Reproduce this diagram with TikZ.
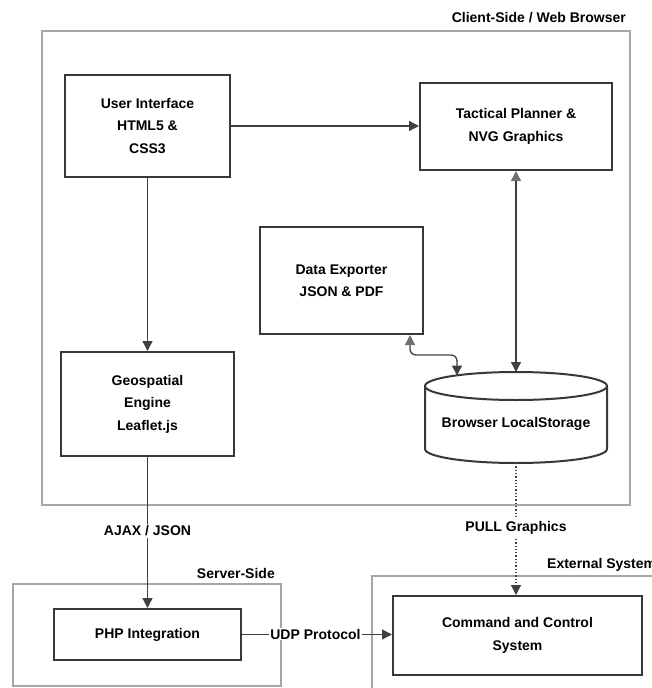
\documentclass[tikz,border=0pt]{standalone}
\usepackage{fontspec}
\setmainfont{Liberation Sans}
\usetikzlibrary{arrows.meta}
\definecolor{boxc}{HTML}{383838}
\definecolor{grpc}{HTML}{A6A6A6}
\definecolor{linec}{HTML}{404040}
\definecolor{tipgray}{HTML}{707070}
\begin{document}
\begin{tikzpicture}[x=1pt,y=-1pt,
  font=\bfseries\fontsize{14}{22.5}\selectfont,
  blk/.style={draw=boxc, line width=2pt, fill=white, align=center, inner sep=0pt},
  grp/.style={draw=grpc, line width=1.6pt},
  link/.style={draw=linec, line width=1.3pt},
  tipend/.style={-{Triangle[length=10pt,width=10pt]}},
  both/.style={{Triangle[length=10pt,width=10pt,color=tipgray]}-{Triangle[length=10pt,width=10pt]}},
  lbl/.style={fill=white, inner sep=2pt},
  grplbl/.style={inner sep=0pt}
]
\useasboundingbox (0,0) rectangle (651,688);

% group frames
\draw[grp] (42,31) rectangle (630,505);
\draw[grp] (13,584) rectangle (281,686);
\draw[grp] (372,700) -- (372,576) -- (660,576);
\node[grplbl, anchor=east] (lclient) at (626,18) {Client-Side / Web Browser};
\node[grplbl, anchor=east] (lserver) at (275,573) {Server-Side};
\node[grplbl, anchor=west] (lext) at (547,565) {External System};

% components
\node[blk, minimum width=165pt, minimum height=102pt] (ui) at (147.5,126) {User Interface\\HTML5 \&\\CSS3};
\node[blk, minimum width=192pt, minimum height=87pt] (tac) at (516,126.5) {Tactical Planner \&\\NVG Graphics};
\node[blk, minimum width=163pt, minimum height=107pt] (exp) at (341.5,280.5) {Data Exporter\\JSON \& PDF};
\node[blk, minimum width=173pt, minimum height=104pt] (geo) at (147.5,404) {Geospatial\\Engine\\Leaflet.js};
\node[blk, minimum width=187pt, minimum height=51pt] (php) at (147.5,634.5) {PHP Integration};
\node[blk, minimum width=249pt, minimum height=79pt] (cc) at (517.5,635.5) {Command and Control\\System};

% storage cylinder
\filldraw[draw=boxc, fill=white, line width=2pt]
  (425,386) -- (425,449) arc[start angle=180, end angle=0, x radius=91, y radius=14] -- (607,386);
\draw[draw=boxc, line width=2pt] (516,386) ellipse [x radius=91, y radius=14];
\node[inner sep=0pt] (store) at (516,424) {Browser LocalStorage};
\coordinate (storetop) at (516,372);
\coordinate (storeside) at (457,375.5);
\coordinate (storebot) at (516,463);

% connectors
\draw[link, tipend] (ui.east |- 0,126) -- (tac.west |- 0,126);
\draw[link, tipend] (ui.south) -- (geo.north);
\draw[link, both] (tac.south -| storetop) -- (storetop);
\draw[link, both, rounded corners=6pt] ([xshift=-14pt]exp.south east) -- ++(0,20) -| (storeside);
\draw[link, tipend] (geo.south) -- (php.north);
\draw[link, dotted, line width=1.2pt, tipend] (storebot) -- (storebot |- cc.north);
\draw[link, tipend] (php.east) -- (php.east -| cc.west);

% connector labels
\node[lbl] (lajax) at (147.5,531) {AJAX / JSON};
\node[lbl] (lpull) at (516,528) {PULL Graphics};
\node[lbl, inner sep=1pt] (ludp) at (315.5,634) {UDP Protocol};
\end{tikzpicture}
\end{document}
